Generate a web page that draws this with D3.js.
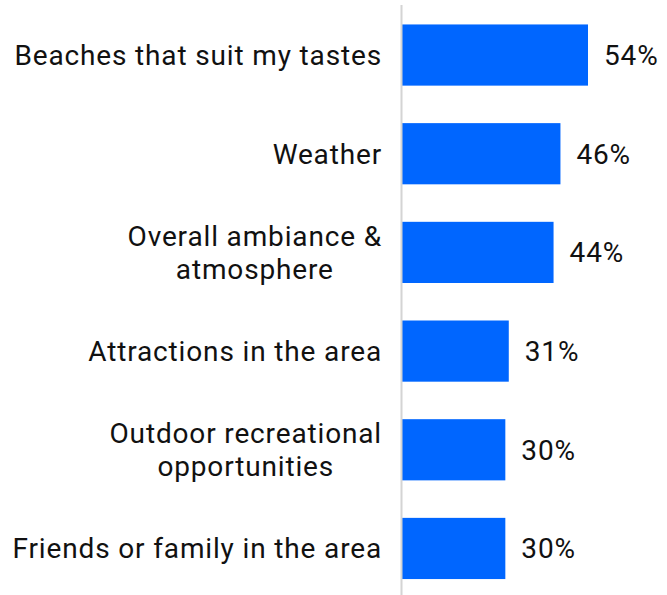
<!DOCTYPE html>
<html>
<head>
<meta charset="utf-8">
<script src="https://cdn.jsdelivr.net/npm/d3@7"></script>
<style>
  html, body { margin: 0; padding: 0; background: #fff; }
  svg { display: block; }
  text { font-family: Roboto, "Noto Sans", sans-serif; fill: #111; letter-spacing: 0.85px; }
</style>
</head>
<body>
<svg id="chart" width="667" height="595"></svg>
<script>
// Reasons for choosing a beach destination (share of respondents)
const categories = [
  ["Beaches that suit my tastes"],
  ["Weather"],
  ["Overall ambiance &", "atmosphere"],
  ["Attractions in the area"],
  ["Outdoor recreational", "opportunities"],
  ["Friends or family in the area"]
];
const values = [54, 46, 44, 31, 30, 30];

const width = 667, height = 595;
const x0 = 402;
const labelRight = 382;
const svg = d3.select("#chart");

const keys = categories.map((c, i) => i);
const y = d3.scaleBand()
  .domain(keys)
  .range([5.7, 597.8])
  .paddingInner(0.38)
  .paddingOuter(0.19);

const x = d3.scaleLinear().domain([0, 54]).range([x0, 588]);

// bars
svg.append("g").selectAll("rect")
  .data(values)
  .join("rect")
  .attr("x", x(0))
  .attr("y", (d, i) => y(i))
  .attr("width", d => x(d) - x(0))
  .attr("height", y.bandwidth())
  .attr("fill", "#0066ff");

// baseline
svg.append("line")
  .attr("x1", x0 - 0.5).attr("x2", x0 - 0.5)
  .attr("y1", 5).attr("y2", height)
  .attr("stroke", "#d4d4d4").attr("stroke-width", 2);

const fs = 28, lh = 33;

// category labels: wrapped lines are centred on each other, block right-aligned
svg.append("g").selectAll("text")
  .data(categories)
  .join("text")
  .attr("font-size", fs)
  .attr("y", (d, i) => y(i) + y.bandwidth() / 2)
  .each(function(lines) {
    const t = d3.select(this);
    const off = -(lines.length - 1) * lh / 2;
    const spans = lines.map((ln, j) =>
      t.append("tspan")
        .attr("dy", j === 0 ? off + fs * 0.35 : lh)
        .text(ln));
    if (lines.length === 1) {
      t.attr("text-anchor", "end");
      spans[0].attr("x", labelRight);
    } else {
      const maxW = d3.max(spans, s => s.node().getComputedTextLength());
      t.attr("text-anchor", "middle");
      spans.forEach(s => s.attr("x", labelRight - maxW / 2));
    }
  });

// value labels
svg.append("g").selectAll("text")
  .data(values)
  .join("text")
  .attr("font-size", fs)
  .attr("x", d => x(d) + 16)
  .attr("y", (d, i) => y(i) + y.bandwidth() / 2 + fs * 0.35)
  .text(d => d + "%");
</script>
</body>
</html>
